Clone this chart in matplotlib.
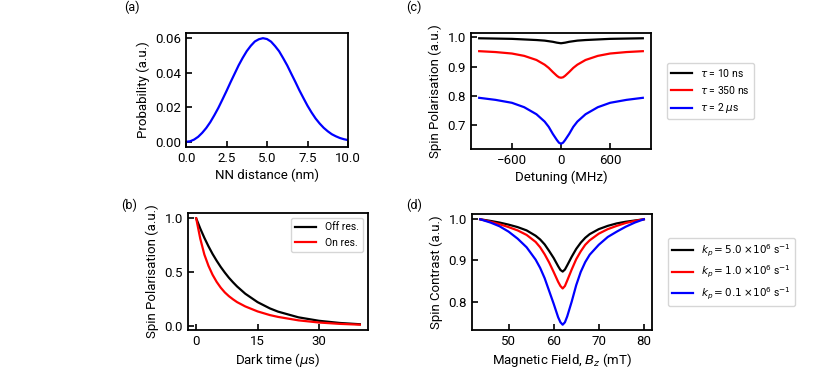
import matplotlib
matplotlib.use("Agg")
import matplotlib.pyplot as plt

plt.rcParams['font.family'] = ['Roboto', 'DejaVu Sans']
plt.rcParams['mathtext.fontset'] = 'dejavusans'
plt.rcParams['font.size'] = 9.5

# ---- Panel (a): NN distance distribution ----
nn_dist = [0.0, 0.25, 0.5, 0.75, 1.0, 1.25, 1.5, 1.75, 2.0, 2.25, 2.5, 2.75, 3.0, 3.25,
           3.5, 3.75, 4.0, 4.25, 4.5, 4.75, 5.0, 5.25, 5.5, 5.75, 6.0, 6.25, 6.5, 6.75,
           7.0, 7.25, 7.5, 7.75, 8.0, 8.25, 8.5, 8.75, 9.0, 9.25, 9.5, 9.75, 10.0]
nn_prob = [0.0, 0.0003, 0.0013, 0.0029, 0.0052, 0.0080, 0.0114, 0.0154, 0.0197, 0.0245,
           0.0294, 0.0345, 0.0394, 0.0443, 0.0486, 0.0525, 0.0556, 0.0581, 0.0594, 0.0600,
           0.0595, 0.0580, 0.0554, 0.0524, 0.0484, 0.0442, 0.0394, 0.0347, 0.0298, 0.0253,
           0.0209, 0.0170, 0.0135, 0.0106, 0.0081, 0.0061, 0.0044, 0.0032, 0.0022, 0.0015,
           0.0010]

# ---- Panel (b): dark time decay ----
dark_time = [0, 1, 2, 3, 4, 5, 6, 7, 8, 9, 10, 12, 15, 18, 20, 25, 30, 35, 40]
off_res = [1.0, 0.905, 0.819, 0.741, 0.670, 0.607, 0.549, 0.497, 0.449, 0.407, 0.368,
           0.301, 0.223, 0.165, 0.135, 0.082, 0.050, 0.030, 0.018]
on_res = [1.0, 0.811, 0.664, 0.560, 0.477, 0.411, 0.357, 0.313, 0.278, 0.249, 0.223,
          0.183, 0.137, 0.103, 0.086, 0.054, 0.034, 0.0215, 0.0138]
b_labels = ['Off res.', 'On res.']

# ---- Panel (c): detuning ----
detuning = [-1000, -800, -600, -450, -300, -200, -150, -100, -50, -25, 0,
            25, 50, 100, 150, 200, 300, 450, 600, 800, 1000]
pol_10ns = [0.997, 0.996, 0.995, 0.993, 0.991, 0.989, 0.987, 0.985, 0.982, 0.981, 0.980,
            0.981, 0.982, 0.985, 0.987, 0.989, 0.991, 0.993, 0.995, 0.996, 0.997]
pol_350ns = [0.953, 0.950, 0.945, 0.937, 0.923, 0.907, 0.896, 0.882, 0.869, 0.864, 0.8625,
             0.864, 0.869, 0.882, 0.896, 0.907, 0.923, 0.937, 0.945, 0.950, 0.953]
pol_2us = [0.794, 0.787, 0.777, 0.762, 0.738, 0.713, 0.695, 0.671, 0.650, 0.641, 0.6375,
           0.641, 0.650, 0.671, 0.695, 0.713, 0.738, 0.762, 0.777, 0.787, 0.794]
c_labels = [r'$\tau$ = 10 ns', r'$\tau$ = 350 ns', r'$\tau$ = 2 $\mu$s']

# ---- Panel (d): magnetic field ----
field = [43.7, 46, 48, 50, 52, 54, 56, 57, 58, 59, 60, 61, 61.5, 62, 62.5, 63, 64,
         65, 66, 67, 68, 70, 72, 74, 76, 78, 80]
contrast_5 = [1.0, 0.996, 0.992, 0.987, 0.981, 0.973, 0.960, 0.951, 0.939, 0.923, 0.906,
              0.886, 0.877, 0.873, 0.878, 0.888, 0.909, 0.928, 0.943, 0.955, 0.964,
              0.976, 0.984, 0.990, 0.994, 0.997, 1.0]
contrast_1 = [1.0, 0.994, 0.988, 0.981, 0.973, 0.962, 0.945, 0.932, 0.915, 0.895, 0.872,
              0.848, 0.838, 0.832, 0.838, 0.851, 0.878, 0.903, 0.922, 0.938, 0.949,
              0.965, 0.976, 0.984, 0.991, 0.996, 1.0]
contrast_01 = [1.0, 0.992, 0.983, 0.970, 0.953, 0.932, 0.902, 0.882, 0.857, 0.826, 0.795,
               0.762, 0.750, 0.744, 0.750, 0.764, 0.800, 0.840, 0.872, 0.896, 0.914,
               0.938, 0.957, 0.970, 0.982, 0.992, 1.0]
d_labels = [r'$k_p = 5.0$ $\times 10^6$ s$^{-1}$',
            r'$k_p = 1.0$ $\times 10^6$ s$^{-1}$',
            r'$k_p = 0.1$ $\times 10^6$ s$^{-1}$']

W, H = 831, 369
fig = plt.figure(figsize=(W / 100, H / 100), dpi=100)


def make_ax(l, r, t, b):
    ax = fig.add_axes([l / W, 1 - b / H, (r - l) / W, (b - t) / H])
    for s in ax.spines.values():
        s.set_linewidth(1.3)
    ax.tick_params(direction='in', length=4, width=1.2, labelsize=9.5, pad=3.5)
    return ax


lw = 1.6

# (a)
ax_a = make_ax(186, 348, 33, 147)
ax_a.plot(nn_dist, nn_prob, color='blue', lw=lw)
ax_a.set_xlim(0, 10)
ax_a.set_xticks([0, 2.5, 5.0, 7.5, 10.0])
ax_a.set_yticks([0.0, 0.02, 0.04, 0.06])
ax_a.set_xlabel('NN distance (nm)', labelpad=3)
ax_a.set_ylabel('Probability (a.u.)')

# (b)
ax_b = make_ax(188, 368, 213, 330)
ax_b.plot(dark_time, off_res, color='black', lw=lw, label=b_labels[0])
ax_b.plot(dark_time, on_res, color='red', lw=lw, label=b_labels[1])
ax_b.set_xticks([0, 15, 30])
ax_b.set_yticks([0.0, 0.5, 1.0])
ax_b.set_xlabel(r'Dark time ($\mu$s)', labelpad=2)
ax_b.set_ylabel('Spin Polarisation (a.u.)')
ax_b.legend(loc='upper right', fontsize=7.5, framealpha=0.8)

# (c)
ax_c = make_ax(471, 651, 33, 149)
ax_c.plot(detuning, pol_10ns, color='black', lw=lw, label=c_labels[0])
ax_c.plot(detuning, pol_350ns, color='red', lw=lw, label=c_labels[1])
ax_c.plot(detuning, pol_2us, color='blue', lw=lw, label=c_labels[2])
ax_c.set_xticks([-600, 0, 600])
ax_c.set_yticks([0.7, 0.8, 0.9, 1.0])
ax_c.set_xlabel('Detuning (MHz)', labelpad=3)
ax_c.set_ylabel('Spin Polarisation (a.u.)')
ax_c.legend(loc='center left', bbox_to_anchor=(1.06, 0.5), fontsize=7.5, framealpha=0.8)

# (d)
ax_d = make_ax(472, 652, 214, 330)
ax_d.plot(field, contrast_5, color='black', lw=lw, label=d_labels[0])
ax_d.plot(field, contrast_1, color='red', lw=lw, label=d_labels[1])
ax_d.plot(field, contrast_01, color='blue', lw=lw, label=d_labels[2])
ax_d.set_xticks([50, 60, 70, 80])
ax_d.set_yticks([0.8, 0.9, 1.0])
ax_d.set_xlabel(r'Magnetic Field, $B_z$ (mT)', labelpad=2)
ax_d.set_ylabel('Spin Contrast (a.u.)')
ax_d.legend(loc='center left', bbox_to_anchor=(1.06, 0.5), fontsize=7.5, framealpha=0.8)

for txt, x, y in [('(a)', 132, 7), ('(b)', 129, 205), ('(c)', 414, 7), ('(d)', 414, 205)]:
    fig.text(x / W, 1 - y / H, txt, ha='center', va='center', fontsize=9)

fig.savefig('out.png', dpi=100)
